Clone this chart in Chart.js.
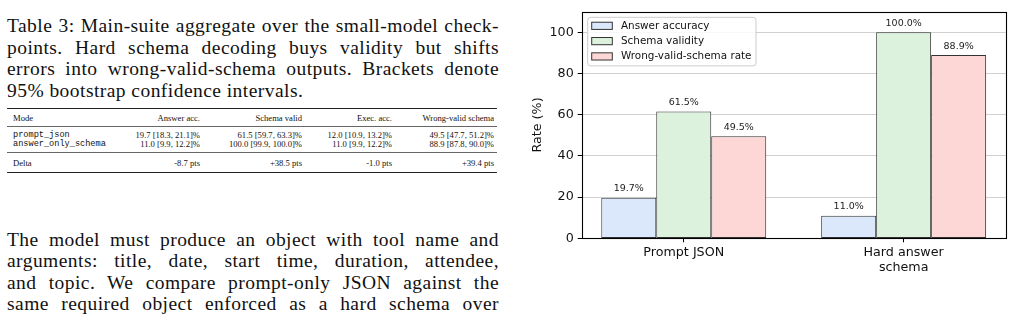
<!DOCTYPE html>
<html>
<head>
<meta charset="utf-8">
<script src="https://cdn.jsdelivr.net/npm/chart.js@4/dist/chart.umd.min.js"></script>
<style>
  html, body { margin: 0; padding: 0; background: #fff; }
  body { width: 1013px; height: 314px; position: relative; overflow: hidden; color: #111; }
  .serif { font-family: "Liberation Serif", "DejaVu Serif", serif; }
  .mono { font-family: "Liberation Mono", "DejaVu Sans Mono", monospace; }
  #caption, #para { position: absolute; left: 7px; width: 492px; font-size: 19.5px; letter-spacing: 0.45px; }
  #caption { top: 15px; line-height: 21.7px; }
  #para { top: 229px; line-height: 21.4px; }
  .j { text-align: justify; text-align-last: justify; white-space: nowrap; }
  .line { white-space: nowrap; }
  .rule { position: absolute; left: 7px; width: 490px; }
  .cell { position: absolute; font-size: 8.6px; line-height: 10px; white-space: nowrap; }
  .r { text-align: right; }
  #chart { position: absolute; left: 530px; top: 0; }
</style>
</head>
<body>
<div id="caption" class="serif">
  <div class="j">Table 3: Main-suite aggregate over the small-model check-</div>
  <div class="j">points. Hard schema decoding buys validity but shifts</div>
  <div class="j">errors into wrong-valid-schema outputs. Brackets denote</div>
  <div class="line">95% bootstrap confidence intervals.</div>
</div>

<div class="rule" style="top:107.5px;height:1.3px;background:#222"></div>
<div class="rule" style="top:126px;height:0.8px;background:#666"></div>
<div class="rule" style="top:152px;height:0.8px;background:#666"></div>
<div class="rule" style="top:172px;height:1.3px;background:#222"></div>

<div id="table"></div>

<div id="para" class="serif">
  <div class="j">The model must produce an object with tool name and</div>
  <div class="j">arguments: title, date, start time, duration, attendee,</div>
  <div class="j">and topic. We compare prompt-only JSON against the</div>
  <div class="j">same required object enforced as a hard schema over</div>
</div>

<canvas id="chart" width="483" height="314"></canvas>

<script>
// table of the left column
const tableHeader = ['Mode', 'Answer acc.', 'Schema valid', 'Exec. acc.', 'Wrong-valid schema'];
const tableRows = [
  ['prompt_json', '19.7 [18.3, 21.1]%', '61.5 [59.7, 63.3]%', '12.0 [10.9, 13.2]%', '49.5 [47.7, 51.2]%'],
  ['answer_only_schema', '11.0 [9.9, 12.2]%', '100.0 [99.9, 100.0]%', '11.0 [9.9, 12.2]%', '88.9 [87.8, 90.0]%']
];
const tableDelta = ['Delta', '-8.7 pts', '+38.5 pts', '-1.0 pts', '+39.4 pts'];

// chart data
const categories = [['Prompt JSON'], ['Hard answer', 'schema']];
const seriesNames = ['Answer accuracy', 'Schema validity', 'Wrong-valid-schema rate'];
const answerAccuracy = [19.7, 11.0];
const schemaValidity = [61.5, 100.0];
const wrongValidRate = [49.5, 88.9];
const yTicks = [0, 20, 40, 60, 80, 100];

function buildTable() {
  const el = document.getElementById('table');
  const rightEdges = [null, 200, 302, 392, 494];
  function addRow(cells, top, monoFirst) {
    cells.forEach((txt, i) => {
      const d = document.createElement('div');
      d.textContent = txt;
      d.className = 'cell ' + ((i === 0 && monoFirst) ? 'mono' : 'serif');
      d.style.top = (top - 5) + 'px';
      if (i === 0) {
        d.style.left = '13px';
      } else {
        d.classList.add('r');
        d.style.right = (1013 - rightEdges[i]) + 'px';
      }
      el.appendChild(d);
    });
  }
  addRow(tableHeader, 117.5, false);
  addRow(tableRows[0], 135, true);
  addRow(tableRows[1], 144, true);
  addRow(tableDelta, 163, false);
}
buildTable();

document.addEventListener('DOMContentLoaded', () => {
  drawChart();
});

function drawChart() {
  const ctx = document.getElementById('chart').getContext('2d');
  const fills = ['#dbe8fb', '#ddf2dd', '#fdd6d6'];
  const edge = '#333333';
  const series = [answerAccuracy, schemaValidity, wrongValidRate];
  const tickFont = { family: 'DejaVu Sans', size: 12.7 };

  const datasets = series.map((vals, k) => {
    return {
      label: seriesNames[k],
      data: vals.map((v, i) => ({ x: i, y: v })),
      backgroundColor: fills[k],
      borderColor: edge,
      borderWidth: 1,
      borderSkipped: false,
      categoryPercentage: 0.75,
      barPercentage: 1.0
    };
  });

  // frame, value labels and in-axes legend
  const extras = {
    id: 'extras',
    afterDatasetsDraw(chart) {
      const c = chart.ctx;
      const a = chart.chartArea;
      c.save();
      // value labels
      c.font = '9.5px "DejaVu Sans"';
      c.fillStyle = '#222';
      c.textAlign = 'center';
      c.textBaseline = 'bottom';
      chart.data.datasets.forEach((ds, k) => {
        chart.getDatasetMeta(k).data.forEach((bar, i) => {
          c.fillText(ds.data[i].y.toFixed(1) + '%', bar.x, bar.y - 4);
        });
      });
      // frame
      c.strokeStyle = '#000';
      c.lineWidth = 1.1;
      c.strokeRect(Math.round(a.left) + 0.5, Math.round(a.top) + 0.5,
                   Math.round(a.right) - Math.round(a.left), Math.round(a.bottom) - Math.round(a.top));
      // legend
      const lx = a.left + 6, ly = a.top + 5.7, lw = 168.3, lh = 48.6;
      c.beginPath();
      c.roundRect(lx, ly, lw, lh, 3);
      c.fillStyle = 'rgba(255,255,255,0.85)';
      c.fill();
      c.strokeStyle = '#cccccc';
      c.lineWidth = 1;
      c.stroke();
      c.font = '10.4px "DejaVu Sans"';
      c.textAlign = 'left';
      c.textBaseline = 'middle';
      chart.data.datasets.forEach((ds, k) => {
        const cy = ly + 8.5 + k * 15.3;
        c.fillStyle = ds.backgroundColor;
        c.fillRect(lx + 4, cy - 3.6, 20.6, 7.2);
        c.strokeStyle = edge;
        c.strokeRect(lx + 4, cy - 3.6, 20.6, 7.2);
        c.fillStyle = '#111';
        c.fillText(ds.label, lx + 33.3, cy);
      });
      c.restore();
    }
  };

  new Chart(ctx, {
    type: 'bar',
    data: { datasets: datasets },
    options: {
      responsive: false,
      animation: false,
      layout: { padding: { top: 7, right: 7.3, left: 0, bottom: 0 } },
      plugins: { legend: { display: false }, tooltip: { enabled: false } },
      scales: {
        x: {
          type: 'linear',
          min: -0.464,
          max: 1.464,
          offset: false,
          afterBuildTicks: s => { s.ticks = categories.map((c, i) => ({ value: i })); },
          afterFit: s => { s.height = 75.7; },
          ticks: {
            callback: v => categories[v],
            font: tickFont,
            color: '#111',
            padding: 3,
            maxRotation: 0,
            autoSkip: false
          },
          grid: { offset: false, drawOnChartArea: false, tickLength: 4, tickColor: '#000', color: '#000' },
          border: { display: false }
        },
        y: {
          min: 0,
          max: 110,
          afterBuildTicks: s => { s.ticks = yTicks.map(v => ({ value: v })); },
          afterFit: s => { s.width = 51.7; },
          ticks: { font: tickFont, color: '#111', padding: 4 },
          grid: {
            color: '#c4c4c4',
            lineWidth: 0.8,
            borderDash: [1, 2],
            tickLength: 4,
            tickColor: '#000',
            tickBorderDash: [],
            tickWidth: 1
          },
          border: { display: false },
          title: { display: true, text: 'Rate (%)', font: tickFont, color: '#111', padding: 0 }
        }
      }
    },
    plugins: [extras]
  });
}
</script>
</body>
</html>
